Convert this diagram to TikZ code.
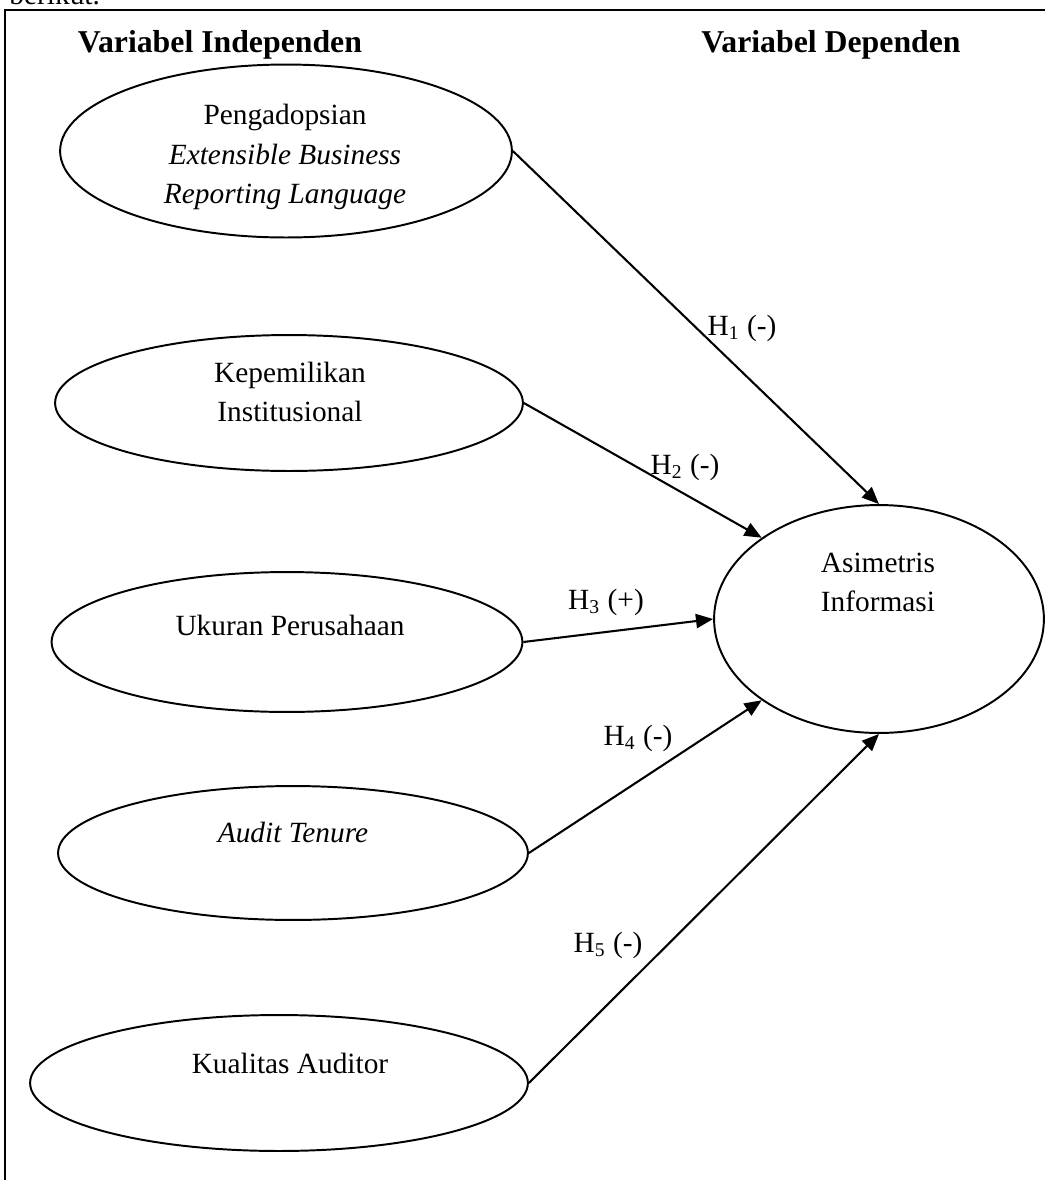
\documentclass[tikz,border=0pt]{standalone}
\usepackage{fontspec}
\setmainfont{Liberation Serif}
\usetikzlibrary{arrows.meta,shapes.geometric}

\begin{document}
\begin{tikzpicture}[
      x=0.014368cm, y=-0.014368cm,
      font=\fontsize{12}{16}\selectfont,
      oval/.style={ellipse,draw,line width=0.8pt,inner sep=0pt},
      txt/.style={align=center,inner sep=0pt},
      head/.style={font=\fontsize{13}{16}\selectfont\bfseries,anchor=base,inner sep=0pt},
      lbl/.style={inner sep=0pt},
      arr/.style={-{Triangle[length=7pt,width=5.8pt]},line width=0.85pt}
    ]
      \useasboundingbox (0,0) rectangle (1044,1180);
      \node[anchor=base west,inner sep=0pt] (intro) at (9,4) {berikut.};
      \draw[line width=0.8pt] (5,1190) -- (5,10) -- (1060,10);
      \node[head] (indep) at (220,52) {Variabel Independen};
      \node[head] (depen) at (831,52) {Variabel Dependen};
      % independent variables
      \node[oval,minimum width=6.494cm,minimum height=2.486cm] (xbrl) at (286,151) {};
      \node[txt] (xbrltxt) at (285,157) {Pengadopsian\\\textit{Extensible Business}\\\textit{Reporting Language}};
      \node[oval,minimum width=6.724cm,minimum height=1.954cm] (inst) at (289,403) {};
      \node[txt] (insttxt) at (290,392) {Kepemilikan\\Institusional};
      \node[oval,minimum width=6.767cm,minimum height=2.011cm] (size) at (287,642) {};
      \node[txt] (sizetxt) at (290,625) {Ukuran Perusahaan};
      \node[oval,minimum width=6.753cm,minimum height=1.925cm] (tenure) at (293,853) {};
      \node[txt] (tenuretxt) at (293,832) {\textit{Audit Tenure}};
      \node[oval,minimum width=7.155cm,minimum height=1.954cm] (kual) at (279,1083) {};
      \node[txt] (kualtxt) at (290,1063) {Kualitas Auditor};
      % dependent variable
      \node[oval,minimum width=4.741cm,minimum height=3.276cm] (asim) at (879,619) {};
      \node[txt] (asimtxt) at (878,582) {Asimetris\\Informasi};
      % hypotheses
      \draw[arr] (xbrl.east) -- (asim.north);
      \draw[arr] (inst.east) -- (asim.north west);
      \draw[arr] (size.east) -- (asim.west);
      \draw[arr] (tenure.east) -- (asim.south west);
      \draw[arr] (kual.east) -- (asim.south);
      \node[lbl] (h1) at (742,328) {H\textsubscript{1} (-)};
      \node[lbl] (h2) at (685,467) {H\textsubscript{2} (-)};
      \node[lbl] (h3) at (606,602) {H\textsubscript{3} (+)};
      \node[lbl] (h4) at (638,738) {H\textsubscript{4} (-)};
      \node[lbl] (h5) at (608,945) {H\textsubscript{5} (-)};
    \end{tikzpicture}
\end{document}
